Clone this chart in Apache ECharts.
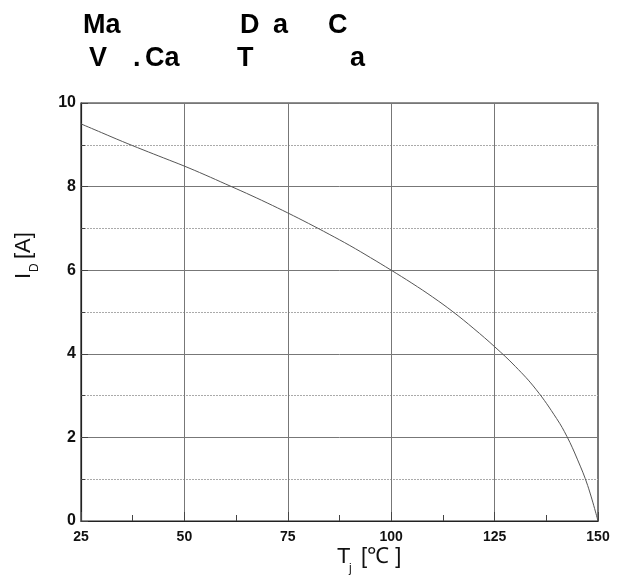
<!DOCTYPE html>
<html>
<head>
<meta charset="utf-8">
<script src="https://cdn.jsdelivr.net/npm/echarts@6/dist/echarts.min.js"></script>
<style>html,body{margin:0;padding:0;background:#fff;}#c{width:620px;height:585px;}</style>
</head>
<body>
<div id="c"></div>
<script>
// Junction temperature Tj [°C]
var temps = [25, 30, 35, 40, 45, 50, 55, 60, 65, 70, 75, 80, 85, 90, 95, 100, 105, 110, 115, 120, 125, 130, 135, 140, 142.5, 145, 147.5, 150];
// Drain current ID [A]
var currents = [9.5, 9.29, 9.08, 8.88, 8.685, 8.49, 8.28, 8.06, 7.84, 7.61, 7.37, 7.12, 6.86, 6.59, 6.3, 6.0, 5.69, 5.36, 5.0, 4.6, 4.17, 3.7, 3.15, 2.45, 2.02, 1.48, 0.85, 0];
var xTicks = [25, 50, 75, 100, 125, 150];
var yTicks = [0, 2, 4, 6, 8, 10];
// Title fragments as they appear
var titleLine1 = [['Ma', 83], ['D', 240], ['a', 273], ['C', 328]];
var titleLine2 = [['V', 89], ['.', 133], ['Ca', 145], ['T', 237], ['a', 350]];

var chart = echarts.init(document.getElementById('c'), null, {renderer: 'canvas'});
var seriesData = temps.map(function (t, i) { return [t, currents[i]]; });

var titleFont = 'bold 27px "Liberation Sans", Arial, sans-serif';
var graphics = [];
titleLine1.forEach(function (f) {
  graphics.push({type: 'text', x: f[1], y: 26, style: {text: f[0], font: titleFont, fill: '#000', textAlign: 'left', textVerticalAlign: 'middle'}});
});
titleLine2.forEach(function (f) {
  graphics.push({type: 'text', x: f[1], y: 59, style: {text: f[0], font: titleFont, fill: '#000', textAlign: 'left', textVerticalAlign: 'middle'}});
});
var labFont = '22px "Liberation Sans", Arial, sans-serif';
var subFont = '12px "Liberation Sans", Arial, sans-serif';
// x axis name
graphics.push({
  type: 'group', x: 337, y: 557,
  children: [
    {type: 'text', x: 0, y: 0, style: {text: 'T', font: labFont, fill: '#111', textAlign: 'left', textVerticalAlign: 'middle'}},
    {type: 'text', x: 12, y: 12, style: {text: 'j', font: subFont, fill: '#111', textAlign: 'left', textVerticalAlign: 'middle'}},
    {type: 'text', x: 24, y: 0, style: {text: '[\u2103 ]', font: labFont, fill: '#111', textAlign: 'left', textVerticalAlign: 'middle'}}
  ]
});
// y axis name
graphics.push({
  type: 'group', x: 23.5, y: 279, rotation: Math.PI / 2,
  children: [
    {type: 'text', x: 0, y: 0, style: {text: 'I', font: labFont, fill: '#111', textAlign: 'left', textVerticalAlign: 'middle'}},
    {type: 'text', x: 7, y: 11, style: {text: 'D', font: subFont, fill: '#111', textAlign: 'left', textVerticalAlign: 'middle'}},
    {type: 'text', x: 20, y: 0, style: {text: '[A]', font: labFont, fill: '#111', textAlign: 'left', textVerticalAlign: 'middle'}}
  ]
});

var option = {
  animation: false,
  backgroundColor: '#fff',
  grid: {left: 81, right: 22, top: 103, bottom: 64, show: true, borderColor: '#222', borderWidth: 1.2, backgroundColor: 'transparent'},
  xAxis: {
    type: 'value', min: xTicks[0], max: xTicks[xTicks.length - 1], interval: 25,
    axisLine: {show: true, onZero: false, lineStyle: {color: '#222', width: 1.2}},
    axisTick: {show: true, inside: true, length: 9, lineStyle: {color: '#444'}},
    minorTick: {show: true, splitNumber: 2, length: 6, lineStyle: {color: '#444'}},
    splitLine: {show: true, lineStyle: {color: '#777', width: 1}},
    minorSplitLine: {show: false},
    axisLabel: {
      margin: 9, color: '#111', fontFamily: '"Liberation Sans", Arial, sans-serif', fontWeight: 'bold', fontSize: 14,
      formatter: function (v) { return xTicks.indexOf(v) >= 0 ? String(v) : ''; }
    }
  },
  yAxis: {
    type: 'value', min: yTicks[0], max: yTicks[yTicks.length - 1], interval: 2,
    axisLine: {show: true, onZero: false, lineStyle: {color: '#222', width: 1.2}},
    axisTick: {show: true, inside: true, length: 7, lineStyle: {color: '#444'}},
    minorTick: {show: true, splitNumber: 2, length: 4, lineStyle: {color: '#444'}},
    splitLine: {show: true, lineStyle: {color: '#777', width: 1}},
    minorSplitLine: {show: true, lineStyle: {color: '#aaa', width: 1, type: [2, 1]}},
    axisLabel: {
      margin: 5, color: '#111', fontFamily: '"Liberation Sans", Arial, sans-serif', fontWeight: 'bold', fontSize: 16,
      formatter: function (v) { return yTicks.indexOf(v) >= 0 ? String(v) : ''; }
    }
  },
  series: [{
    type: 'line', data: seriesData, showSymbol: false, smooth: 0.4,
    lineStyle: {color: '#555', width: 1}, silent: true
  }],
  graphic: graphics
};
chart.setOption(option);
</script>
</body>
</html>
